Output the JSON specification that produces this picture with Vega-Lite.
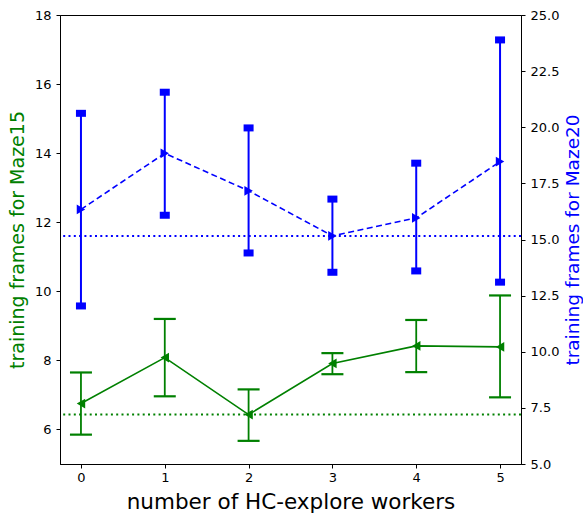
{
  "$schema": "https://vega.github.io/schema/vega-lite/v6.json",
  "width": 461,
  "height": 449,
  "autosize": {"type": "none"},
  "padding": {"left": 60, "top": 15, "right": 62, "bottom": 49},
  "background": "white",
  "config": {
    "view": {"stroke": "black", "strokeWidth": 1},
    "font": "DejaVu Sans",
    "axis": {
      "grid": false,
      "domainColor": "black",
      "tickColor": "black",
      "labelColor": "black",
      "labelFontSize": 13,
      "labelFont": "DejaVu Sans",
      "titleFont": "DejaVu Sans",
      "titleFontWeight": "normal",
      "tickSize": 4,
      "labelPadding": 5
    }
  },
  "datasets": {
    "maze15": [
      {"workers": 0, "mean": 6.75, "lo": 5.85, "hi": 7.65},
      {"workers": 1, "mean": 8.08, "lo": 6.96, "hi": 9.2},
      {"workers": 2, "mean": 6.43, "lo": 5.67, "hi": 7.16},
      {"workers": 3, "mean": 7.91, "lo": 7.6, "hi": 8.21},
      {"workers": 4, "mean": 8.42, "lo": 7.66, "hi": 9.17},
      {"workers": 5, "mean": 8.39, "lo": 6.93, "hi": 9.88}
    ],
    "maze20": [
      {"workers": 0, "mean": 16.34, "lo": 12.04, "hi": 20.62},
      {"workers": 1, "mean": 18.84, "lo": 16.08, "hi": 21.56},
      {"workers": 2, "mean": 17.17, "lo": 14.4, "hi": 19.97},
      {"workers": 3, "mean": 15.16, "lo": 13.54, "hi": 16.8},
      {"workers": 4, "mean": 15.96, "lo": 13.6, "hi": 18.4},
      {"workers": 5, "mean": 18.47, "lo": 13.1, "hi": 23.89}
    ],
    "base15": [{"baseline": 6.43}],
    "base20": [{"baseline": 15.16}]
  },
  "layer": [
    {
      "layer": [
        {
          "data": {"name": "base15"},
          "mark": {"type": "rule", "color": "#008000", "strokeWidth": 2, "strokeDash": [2, 3.3]},
          "encoding": {
            "y": {"field": "baseline", "type": "quantitative", "scale": {"domain": [5, 18], "nice": false, "zero": false},
              "axis": {"orient": "left", "title": "training frames for Maze15", "titleColor": "#008000", "titleFontSize": 19, "titlePadding": 7, "values": [6, 8, 10, 12, 14, 16, 18]}}
          }
        },
        {
          "data": {"name": "maze15"},
          "mark": {"type": "rule", "color": "#008000", "strokeWidth": 1.8},
          "encoding": {
            "x": {"field": "workers", "type": "quantitative", "scale": {"domain": [-0.25, 5.25], "nice": false, "zero": false},
              "axis": {"title": "number of HC-explore workers", "titleFontSize": 21.5, "titlePadding": 7, "labelPadding": 3, "values": [0, 1, 2, 3, 4, 5], "format": "d"}},
            "y": {"field": "lo", "type": "quantitative", "scale": {"domain": [5, 18], "nice": false, "zero": false},
              "axis": {"orient": "left", "title": "training frames for Maze15", "titleColor": "#008000", "titleFontSize": 19, "titlePadding": 7, "values": [6, 8, 10, 12, 14, 16, 18]}},
            "y2": {"field": "hi"}
          }
        },
        {
          "data": {"name": "maze15"},
          "mark": {"type": "tick", "orient": "horizontal", "color": "#008000", "size": 22, "thickness": 2.2, "opacity": 1},
          "encoding": {
            "x": {"field": "workers", "type": "quantitative", "scale": {"domain": [-0.25, 5.25], "nice": false, "zero": false},
              "axis": {"title": "number of HC-explore workers", "titleFontSize": 21.5, "titlePadding": 7, "labelPadding": 3, "values": [0, 1, 2, 3, 4, 5], "format": "d"}},
            "y": {"field": "lo", "type": "quantitative", "scale": {"domain": [5, 18], "nice": false, "zero": false},
              "axis": {"orient": "left", "title": "training frames for Maze15", "titleColor": "#008000", "titleFontSize": 19, "titlePadding": 7, "values": [6, 8, 10, 12, 14, 16, 18]}}
          }
        },
        {
          "data": {"name": "maze15"},
          "mark": {"type": "tick", "orient": "horizontal", "color": "#008000", "size": 22, "thickness": 2.2, "opacity": 1},
          "encoding": {
            "x": {"field": "workers", "type": "quantitative", "scale": {"domain": [-0.25, 5.25], "nice": false, "zero": false},
              "axis": {"title": "number of HC-explore workers", "titleFontSize": 21.5, "titlePadding": 7, "labelPadding": 3, "values": [0, 1, 2, 3, 4, 5], "format": "d"}},
            "y": {"field": "hi", "type": "quantitative", "scale": {"domain": [5, 18], "nice": false, "zero": false},
              "axis": {"orient": "left", "title": "training frames for Maze15", "titleColor": "#008000", "titleFontSize": 19, "titlePadding": 7, "values": [6, 8, 10, 12, 14, 16, 18]}}
          }
        },
        {
          "data": {"name": "maze15"},
          "mark": {"type": "line", "color": "#008000", "strokeWidth": 1.6},
          "encoding": {
            "x": {"field": "workers", "type": "quantitative", "scale": {"domain": [-0.25, 5.25], "nice": false, "zero": false},
              "axis": {"title": "number of HC-explore workers", "titleFontSize": 21.5, "titlePadding": 7, "labelPadding": 3, "values": [0, 1, 2, 3, 4, 5], "format": "d"}},
            "y": {"field": "mean", "type": "quantitative", "scale": {"domain": [5, 18], "nice": false, "zero": false},
              "axis": {"orient": "left", "title": "training frames for Maze15", "titleColor": "#008000", "titleFontSize": 19, "titlePadding": 7, "values": [6, 8, 10, 12, 14, 16, 18]}}
          }
        },
        {
          "data": {"name": "maze15"},
          "mark": {"type": "point", "shape": "triangle-left", "filled": true, "color": "#008000", "size": 95, "opacity": 1},
          "encoding": {
            "x": {"field": "workers", "type": "quantitative", "scale": {"domain": [-0.25, 5.25], "nice": false, "zero": false},
              "axis": {"title": "number of HC-explore workers", "titleFontSize": 21.5, "titlePadding": 7, "labelPadding": 3, "values": [0, 1, 2, 3, 4, 5], "format": "d"}},
            "y": {"field": "mean", "type": "quantitative", "scale": {"domain": [5, 18], "nice": false, "zero": false},
              "axis": {"orient": "left", "title": "training frames for Maze15", "titleColor": "#008000", "titleFontSize": 19, "titlePadding": 7, "values": [6, 8, 10, 12, 14, 16, 18]}}
          }
        }
      ]
    },
    {
      "layer": [
        {
          "data": {"name": "base20"},
          "mark": {"type": "rule", "color": "#0000ff", "strokeWidth": 2, "strokeDash": [2, 3.3]},
          "encoding": {
            "y": {"field": "baseline", "type": "quantitative", "scale": {"domain": [5, 25], "nice": false, "zero": false},
              "axis": {"orient": "right", "title": "training frames for Maze20", "titleColor": "#0000ff", "titleFontSize": 18.5, "titleAngle": 270, "titleBaseline": "top", "titlePadding": 5, "values": [5, 7.5, 10, 12.5, 15, 17.5, 20, 22.5, 25], "format": ".1f"}}
          }
        },
        {
          "data": {"name": "maze20"},
          "mark": {"type": "rule", "color": "#0000ff", "strokeWidth": 2},
          "encoding": {
            "x": {"field": "workers", "type": "quantitative", "scale": {"domain": [-0.25, 5.25], "nice": false, "zero": false},
              "axis": {"title": "number of HC-explore workers", "titleFontSize": 21.5, "titlePadding": 7, "labelPadding": 3, "values": [0, 1, 2, 3, 4, 5], "format": "d"}},
            "y": {"field": "lo", "type": "quantitative", "scale": {"domain": [5, 25], "nice": false, "zero": false},
              "axis": {"orient": "right", "title": "training frames for Maze20", "titleColor": "#0000ff", "titleFontSize": 18.5, "titleAngle": 270, "titleBaseline": "top", "titlePadding": 5, "values": [5, 7.5, 10, 12.5, 15, 17.5, 20, 22.5, 25], "format": ".1f"}},
            "y2": {"field": "hi"}
          }
        },
        {
          "data": {"name": "maze20"},
          "mark": {"type": "tick", "orient": "horizontal", "color": "#0000ff", "size": 10, "thickness": 7, "opacity": 1},
          "encoding": {
            "x": {"field": "workers", "type": "quantitative", "scale": {"domain": [-0.25, 5.25], "nice": false, "zero": false},
              "axis": {"title": "number of HC-explore workers", "titleFontSize": 21.5, "titlePadding": 7, "labelPadding": 3, "values": [0, 1, 2, 3, 4, 5], "format": "d"}},
            "y": {"field": "lo", "type": "quantitative", "scale": {"domain": [5, 25], "nice": false, "zero": false},
              "axis": {"orient": "right", "title": "training frames for Maze20", "titleColor": "#0000ff", "titleFontSize": 18.5, "titleAngle": 270, "titleBaseline": "top", "titlePadding": 5, "values": [5, 7.5, 10, 12.5, 15, 17.5, 20, 22.5, 25], "format": ".1f"}}
          }
        },
        {
          "data": {"name": "maze20"},
          "mark": {"type": "tick", "orient": "horizontal", "color": "#0000ff", "size": 10, "thickness": 7, "opacity": 1},
          "encoding": {
            "x": {"field": "workers", "type": "quantitative", "scale": {"domain": [-0.25, 5.25], "nice": false, "zero": false},
              "axis": {"title": "number of HC-explore workers", "titleFontSize": 21.5, "titlePadding": 7, "labelPadding": 3, "values": [0, 1, 2, 3, 4, 5], "format": "d"}},
            "y": {"field": "hi", "type": "quantitative", "scale": {"domain": [5, 25], "nice": false, "zero": false},
              "axis": {"orient": "right", "title": "training frames for Maze20", "titleColor": "#0000ff", "titleFontSize": 18.5, "titleAngle": 270, "titleBaseline": "top", "titlePadding": 5, "values": [5, 7.5, 10, 12.5, 15, 17.5, 20, 22.5, 25], "format": ".1f"}}
          }
        },
        {
          "data": {"name": "maze20"},
          "mark": {"type": "line", "color": "#0000ff", "strokeWidth": 1.6, "strokeDash": [6, 3.5]},
          "encoding": {
            "x": {"field": "workers", "type": "quantitative", "scale": {"domain": [-0.25, 5.25], "nice": false, "zero": false},
              "axis": {"title": "number of HC-explore workers", "titleFontSize": 21.5, "titlePadding": 7, "labelPadding": 3, "values": [0, 1, 2, 3, 4, 5], "format": "d"}},
            "y": {"field": "mean", "type": "quantitative", "scale": {"domain": [5, 25], "nice": false, "zero": false},
              "axis": {"orient": "right", "title": "training frames for Maze20", "titleColor": "#0000ff", "titleFontSize": 18.5, "titleAngle": 270, "titleBaseline": "top", "titlePadding": 5, "values": [5, 7.5, 10, 12.5, 15, 17.5, 20, 22.5, 25], "format": ".1f"}}
          }
        },
        {
          "data": {"name": "maze20"},
          "mark": {"type": "point", "shape": "triangle-right", "filled": true, "color": "#0000ff", "size": 95, "opacity": 1},
          "encoding": {
            "x": {"field": "workers", "type": "quantitative", "scale": {"domain": [-0.25, 5.25], "nice": false, "zero": false},
              "axis": {"title": "number of HC-explore workers", "titleFontSize": 21.5, "titlePadding": 7, "labelPadding": 3, "values": [0, 1, 2, 3, 4, 5], "format": "d"}},
            "y": {"field": "mean", "type": "quantitative", "scale": {"domain": [5, 25], "nice": false, "zero": false},
              "axis": {"orient": "right", "title": "training frames for Maze20", "titleColor": "#0000ff", "titleFontSize": 18.5, "titleAngle": 270, "titleBaseline": "top", "titlePadding": 5, "values": [5, 7.5, 10, 12.5, 15, 17.5, 20, 22.5, 25], "format": ".1f"}}
          }
        }
      ]
    }
  ],
  "resolve": {"scale": {"y": "independent"}}
}
